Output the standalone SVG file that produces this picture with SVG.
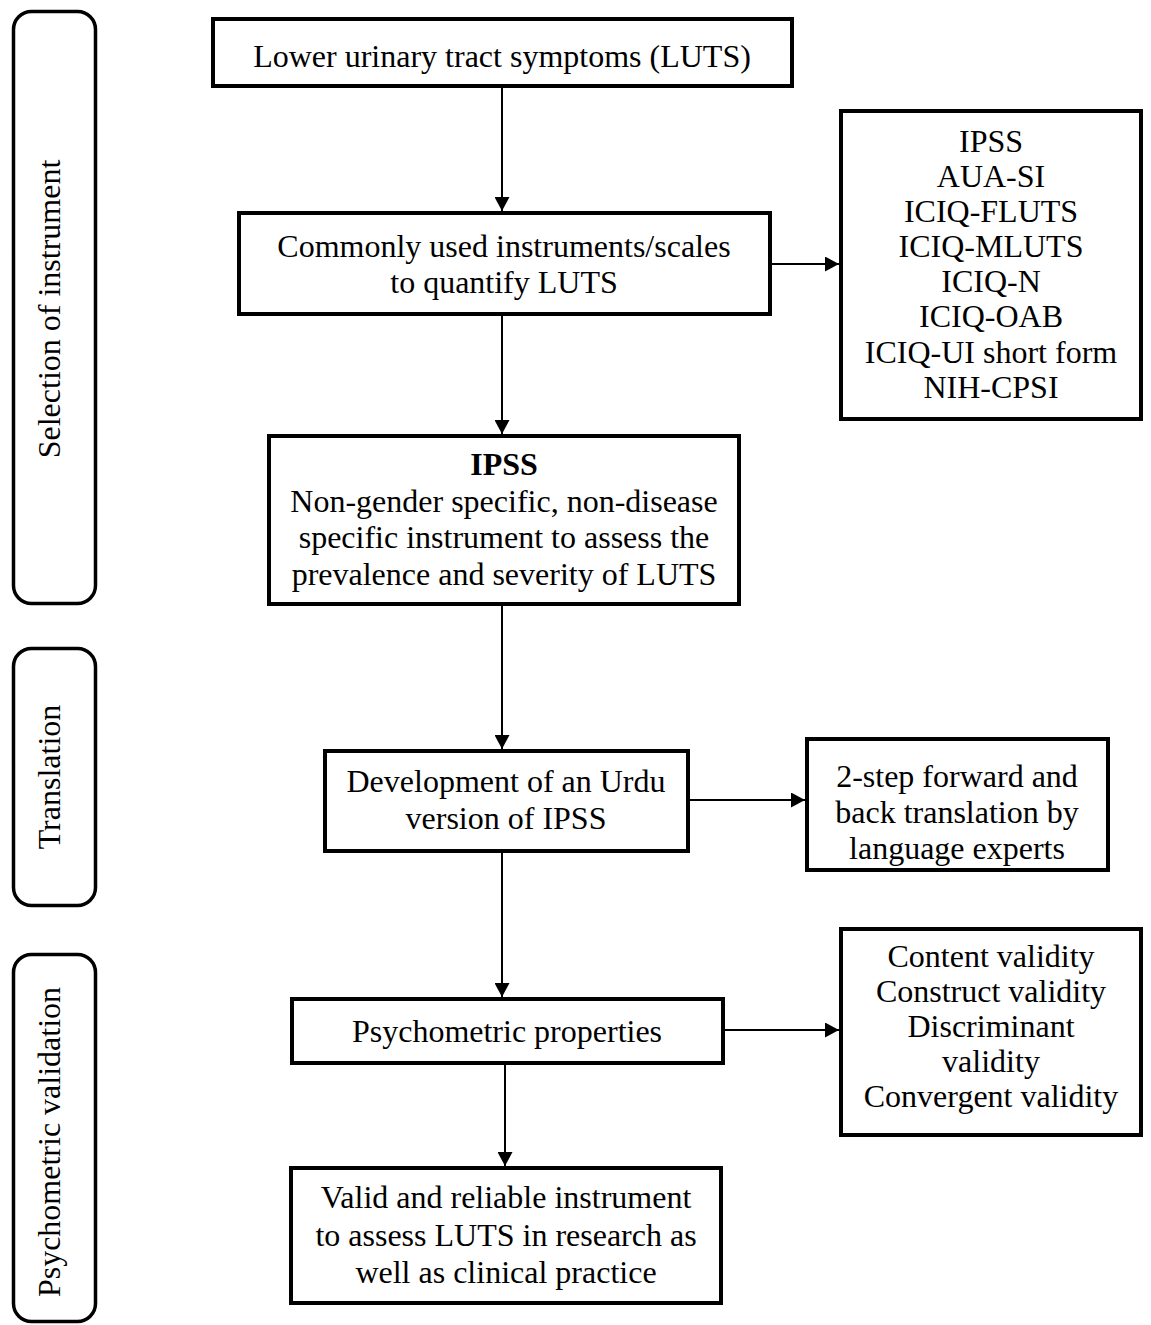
<svg xmlns="http://www.w3.org/2000/svg" width="1151" height="1325" viewBox="0 0 1151 1325">
<defs>
<style>
.box{fill:#fff;stroke:#000;stroke-width:4}
.band{fill:#fff;stroke:#000;stroke-width:3.5}
.t{font-family:"Liberation Serif","Times New Roman",serif;font-size:32px;fill:#000;text-anchor:middle}
.b{font-weight:bold}
.c{stroke:#000;stroke-width:2;fill:none}
</style>
<marker id="ah" viewBox="0 0 14 15" refX="14" refY="7.5" markerWidth="14" markerHeight="15" markerUnits="userSpaceOnUse" orient="auto">
<path d="M0,0 L14,7.5 L0,15 z" fill="#000"/>
</marker>
</defs>
<rect width="1151" height="1325" fill="#fff"/>

<g id="band-selection">
<rect class="band" x="13.5" y="11.5" width="82" height="592" rx="18"/>
<text class="t" transform="translate(60,309) rotate(-90)">Selection of instrument</text>
</g>
<g id="band-translation">
<rect class="band" x="13.5" y="648.5" width="82" height="257" rx="18"/>
<text class="t" transform="translate(60,777) rotate(-90)">Translation</text>
</g>
<g id="band-validation">
<rect class="band" x="13.5" y="954.5" width="82" height="367" rx="18"/>
<text class="t" transform="translate(60,1142) rotate(-90)">Psychometric validation</text>
</g>

<g id="connectors">
<line class="c" x1="502" y1="86" x2="502" y2="211" marker-end="url(#ah)"/>
<line class="c" x1="770" y1="264" x2="839" y2="264" marker-end="url(#ah)"/>
<line class="c" x1="502" y1="314" x2="502" y2="434" marker-end="url(#ah)"/>
<line class="c" x1="502" y1="604" x2="502" y2="749" marker-end="url(#ah)"/>
<line class="c" x1="688" y1="800" x2="805" y2="800" marker-end="url(#ah)"/>
<line class="c" x1="502" y1="851" x2="502" y2="997" marker-end="url(#ah)"/>
<line class="c" x1="723" y1="1030" x2="839" y2="1030" marker-end="url(#ah)"/>
<line class="c" x1="505" y1="1063" x2="505" y2="1166" marker-end="url(#ah)"/>
</g>

<g id="luts">
<rect class="box" x="213" y="19" width="579" height="67"/>
<text class="t" x="502" y="67">Lower urinary tract symptoms (LUTS)</text>
</g>
<g id="instruments">
<rect class="box" x="239" y="213" width="531" height="101"/>
<text class="t" x="504" y="257">Commonly used instruments/scales</text>
<text class="t" x="504" y="293">to quantify LUTS</text>
</g>
<g id="instrument-list">
<rect class="box" x="841" y="111" width="300" height="308"/>
<text class="t" x="991" y="152">IPSS</text>
<text class="t" x="991" y="187">AUA-SI</text>
<text class="t" x="991" y="222">ICIQ-FLUTS</text>
<text class="t" x="991" y="257">ICIQ-MLUTS</text>
<text class="t" x="991" y="292">ICIQ-N</text>
<text class="t" x="991" y="327">ICIQ-OAB</text>
<text class="t" x="991" y="363">ICIQ-UI short form</text>
<text class="t" x="991" y="398">NIH-CPSI</text>
</g>
<g id="ipss">
<rect class="box" x="269" y="436" width="470" height="168"/>
<text class="t b" x="504" y="475">IPSS</text>
<text class="t" x="504" y="512">Non-gender specific, non-disease</text>
<text class="t" x="504" y="548">specific instrument to assess the</text>
<text class="t" x="504" y="585">prevalence and severity of LUTS</text>
</g>
<g id="urdu">
<rect class="box" x="325" y="751" width="363" height="100"/>
<text class="t" x="506" y="792">Development of an Urdu</text>
<text class="t" x="506" y="829">version of IPSS</text>
</g>
<g id="translation-method">
<rect class="box" x="807" y="739" width="301" height="131"/>
<text class="t" x="957" y="787">2-step forward and</text>
<text class="t" x="957" y="823">back translation by</text>
<text class="t" x="957" y="859">language experts</text>
</g>
<g id="psychometric">
<rect class="box" x="292" y="999" width="431" height="64"/>
<text class="t" x="507" y="1042">Psychometric properties</text>
</g>
<g id="validity-list">
<rect class="box" x="841" y="929" width="300" height="206"/>
<text class="t" x="991" y="967">Content validity</text>
<text class="t" x="991" y="1002">Construct validity</text>
<text class="t" x="991" y="1037">Discriminant</text>
<text class="t" x="991" y="1072">validity</text>
<text class="t" x="991" y="1107">Convergent validity</text>
</g>
<g id="valid-instrument">
<rect class="box" x="291" y="1168" width="430" height="135"/>
<text class="t" x="506" y="1208">Valid and reliable instrument</text>
<text class="t" x="506" y="1246">to assess LUTS in research as</text>
<text class="t" x="506" y="1283">well as clinical practice</text>
</g>
</svg>
